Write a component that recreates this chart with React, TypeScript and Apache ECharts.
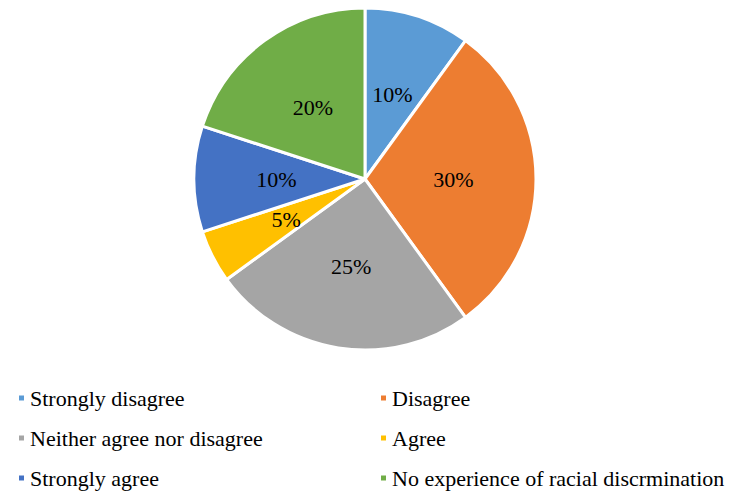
import React, { useEffect, useRef } from "react";
import * as echarts from "echarts";

const categories = [
  "Strongly disagree",
  "Disagree",
  "Neither agree nor disagree",
  "Agree",
  "Strongly agree",
  "No experience of racial discrmination",
];
const values = [10, 30, 25, 5, 10, 20];
const colors = ["#5B9BD5", "#ED7D31", "#A5A5A5", "#FFC000", "#4472C4", "#70AD47"];

const leftLegend = [categories[0], categories[2], categories[4]];
const rightLegend = [categories[1], categories[3], categories[5]];

export default function App() {
  const ref = useRef<HTMLDivElement>(null);
  useEffect(() => {
    if (!ref.current) return;
    const chart = echarts.init(ref.current, undefined, { renderer: "svg" });
    const font = "Times New Roman";
    const legendBase = {
      orient: "vertical",
      top: 387,
      height: 104,
      padding: 0,
      itemWidth: 7,
      itemHeight: 7,
      icon: "rect",
      itemGap: 18,
      textStyle: { fontFamily: font, fontSize: 22, color: "#000" },
      selectedMode: false,
    };
    chart.setOption({
      animation: false,
      color: colors,
      textStyle: { fontFamily: font },
      legend: [
        { ...legendBase, left: 17, data: leftLegend },
        { ...legendBase, left: 379, data: rightLegend },
      ],
      series: [
        {
          type: "pie",
          center: [365, 179],
          radius: [0, 171],
          startAngle: 90,
          clockwise: true,
          itemStyle: { borderColor: "#fff", borderWidth: 3 },
          label: {
            show: true,
            position: "inside",
            formatter: (p: any) => p.value + "%",
            fontFamily: font,
            fontSize: 22,
            color: "#000",
          },
          labelLine: { show: false },
          emphasis: { disabled: true },
          data: categories.map((c, i) => ({ name: c, value: values[i] })),
        },
      ],
    });
    return () => chart.dispose();
  }, []);
  return (
    <div
      ref={ref}
      style={{ position: "absolute", left: 0, top: 0, width: 734, height: 491 }}
    />
  );
}
